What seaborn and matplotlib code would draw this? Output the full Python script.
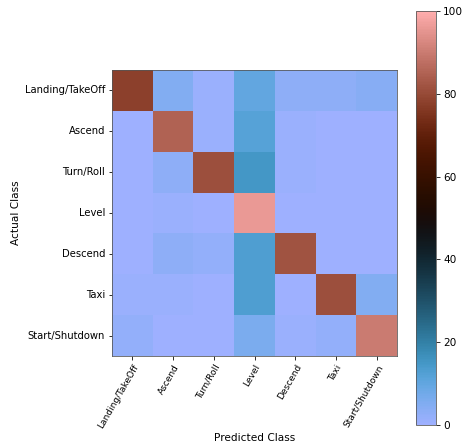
import numpy as np
import seaborn as sns
import matplotlib
matplotlib.use('Agg')
import matplotlib.pyplot as plt

# class names and confusion matrix (percent of actual class)
classes = ['Landing/TakeOff', 'Ascend', 'Turn/Roll', 'Level', 'Descend', 'Taxi', 'Start/Shutdown']
row_landing = [78, 5, 1, 10, 3, 3, 4]
row_ascend = [0, 85, 1, 12, 1, 0, 0]
row_turn = [0, 3, 81, 15, 1, 0, 0]
row_level = [0, 1, 0, 96, 0, 0, 0]
row_descend = [0, 3, 2, 13, 82, 0, 0]
row_taxi = [1, 1, 0, 13, 0, 81, 5]
row_start = [2, 0, 0, 6, 1, 2, 90]

cm = np.array([row_landing, row_ascend, row_turn, row_level,
               row_descend, row_taxi, row_start])

fig = plt.figure(figsize=(463/72, 447/72), dpi=72)
ax = fig.add_axes([0.242, 0.2036, 0.6156, 0.64])
cax = fig.add_axes([0.8985, 0.0492, 0.0432, 0.926])

sns.heatmap(cm, ax=ax, cbar_ax=cax, cmap='berlin', vmin=0, vmax=100,
            xticklabels=classes, yticklabels=classes)

# keep the frame like imshow does
for s in ax.spines.values():
    s.set_visible(True)
    s.set_color('#555555')
    s.set_linewidth(0.8)
cbar = ax.collections[0].colorbar
cbar.outline.set_visible(True)
cbar.outline.set_edgecolor('#555555')
cbar.outline.set_linewidth(0.8)
cbar.set_ticks([0, 20, 40, 60, 80, 100])
cbar.ax.tick_params(labelsize=10.5)

ax.set_xticklabels(classes, rotation=60, ha='right', rotation_mode='anchor', fontsize=9)
ax.set_yticklabels(classes, rotation=0, fontsize=10)
ax.tick_params(length=3.5, width=0.8)
ax.set_xlabel('Predicted Class', fontsize=10.5, labelpad=3)
ax.set_ylabel('Actual Class', fontsize=10.5)

fig.savefig('out.png', dpi=72)
